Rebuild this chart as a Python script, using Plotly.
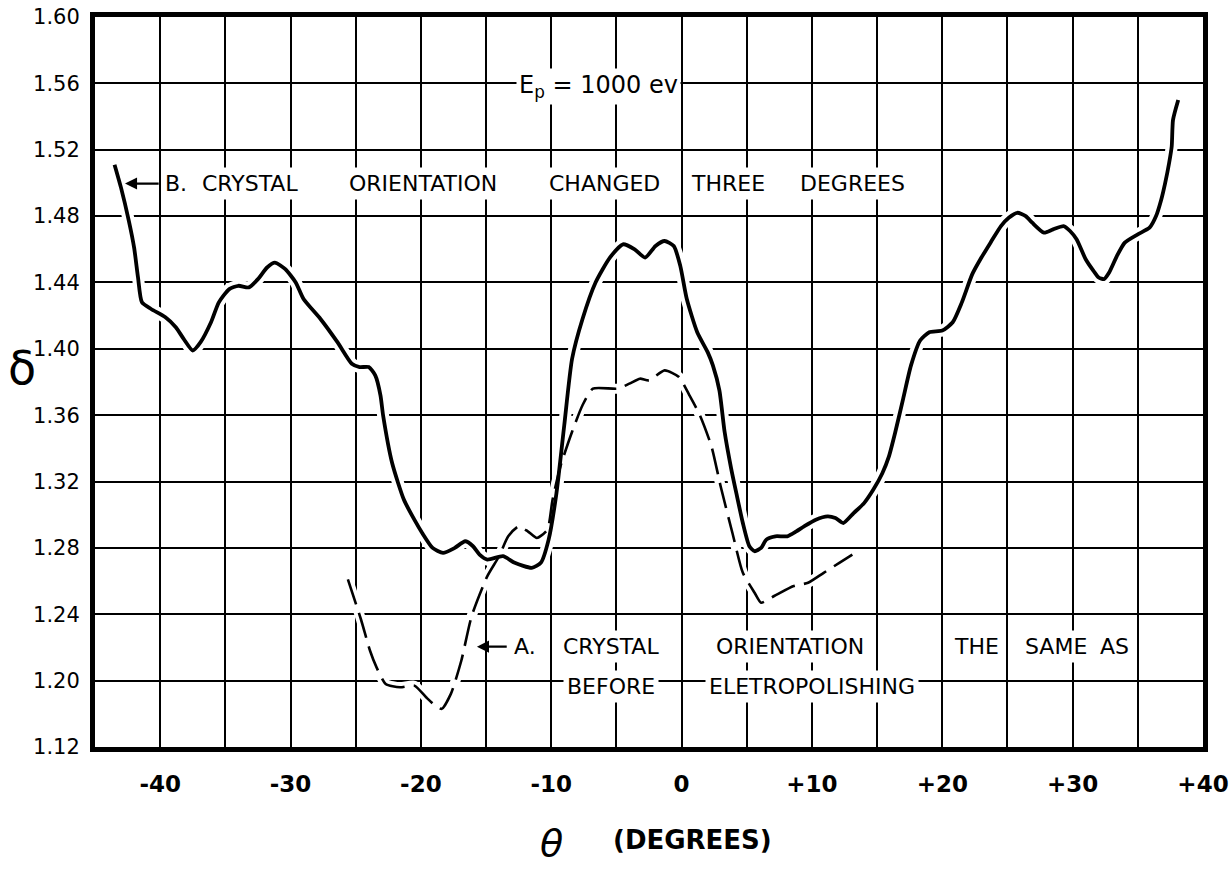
import plotly.graph_objects as go

# Curve B: crystal orientation changed three degrees (solid)
theta_b = [-43.5, -43.0, -42.4, -42.0, -41.7, -41.4, -40.7, -39.6, -38.8, -38.2,
           -37.5, -36.9, -36.1, -35.5, -34.7, -34.0, -33.2, -32.5, -31.8, -31.2,
           -30.4, -29.6, -29.0, -27.7, -26.4, -25.3, -24.7, -24.0, -23.5, -23.1,
           -22.9, -22.2, -21.3, -20.5, -19.9, -19.1, -18.3, -17.4, -16.6, -16.0,
           -15.5, -14.9, -13.7, -12.8, -11.5, -10.8, -10.2, -9.6, -9.0, -8.4,
           -7.6, -6.6, -5.5, -4.5, -3.6, -2.8, -2.0, -1.3, -0.6, -0.1,
           0.4, 1.2, 2.0, 2.4, 2.9, 3.3, 3.8, 4.2, 4.7, 5.2,
           5.6, 6.1, 6.5, 7.2, 8.1, 8.8, 9.4, 10.3, 11.2, 11.8,
           12.4, 13.2, 14.0, 14.7, 15.4, 15.9, 16.4, 17.0, 17.6, 18.3,
           19.0, 20.0, 20.8, 21.5, 22.3, 23.0, 23.7, 24.5, 25.1, 25.75,
           26.4, 26.9, 27.8, 28.5, 29.3, 29.8, 30.3, 31.0, 31.6, 32.0,
           32.4, 32.8, 33.4, 34.0, 35.0, 35.9, 36.4, 36.8, 37.1, 37.4,
           37.6, 37.7, 38.1]
delta_b = [1.511, 1.497, 1.477, 1.461, 1.443, 1.428, 1.424, 1.419, 1.413, 1.406,
           1.399, 1.404, 1.416, 1.428, 1.436, 1.438, 1.437, 1.442, 1.449, 1.452,
           1.448, 1.440, 1.430, 1.418, 1.404, 1.391, 1.389, 1.389, 1.384, 1.372,
           1.360, 1.331, 1.309, 1.297, 1.289, 1.280, 1.277, 1.280, 1.284, 1.281,
           1.276, 1.273, 1.275, 1.271, 1.268, 1.271, 1.285, 1.313, 1.354, 1.394,
           1.418, 1.440, 1.455, 1.463, 1.460, 1.455, 1.462, 1.465, 1.462, 1.450,
           1.430, 1.410, 1.398, 1.390, 1.375, 1.350, 1.328, 1.313, 1.295, 1.281,
           1.278, 1.280, 1.285, 1.287, 1.287, 1.290, 1.293, 1.297, 1.299, 1.298,
           1.295, 1.301, 1.307, 1.315, 1.325, 1.335, 1.350, 1.370, 1.390, 1.405,
           1.410, 1.411, 1.416, 1.428, 1.445, 1.455, 1.464, 1.474, 1.479, 1.482,
           1.480, 1.476, 1.470, 1.472, 1.474, 1.471, 1.466, 1.454, 1.447, 1.443,
           1.442, 1.446, 1.456, 1.464, 1.469, 1.473, 1.480, 1.490, 1.500, 1.512,
           1.522, 1.538, 1.550]

# Curve A: crystal orientation the same as before electropolishing (dashed)
theta_a = [-25.6, -24.6, -23.9, -23.4, -22.7, -21.6, -20.5, -19.6, -18.9, -18.4,
           -17.7, -16.9, -16.1, -14.9, -14.0, -13.3, -12.5, -11.8, -11.1, -10.3,
           -9.9, -9.3, -8.4, -7.6, -6.8, -4.9, -4.0, -3.2, -2.5, -1.3,
           -0.2, 0.6, 1.4, 2.3, 3.0, 3.9, 4.7, 5.6, 6.1, 7.1,
           8.6, 9.7, 10.9, 12.1, 13.1]
delta_a = [1.261, 1.237, 1.218, 1.208, 1.198, 1.196, 1.197, 1.190, 1.185, 1.183,
           1.192, 1.212, 1.239, 1.263, 1.275, 1.287, 1.293, 1.290, 1.286, 1.291,
           1.309, 1.329, 1.350, 1.366, 1.376, 1.376, 1.379, 1.382, 1.381, 1.387,
           1.383, 1.372, 1.360, 1.341, 1.317, 1.289, 1.265, 1.253, 1.247, 1.251,
           1.257, 1.259, 1.265, 1.271, 1.276]

# Axis ticks
x_tick_vals = [-40, -35, -30, -25, -20, -15, -10, -5, 0, 5, 10, 15, 20, 25, 30, 35, 40]
x_tick_text = ["-40", "", "-30", "", "-20", "", "-10", "", "0", "",
               "+10", "", "+20", "", "+30", "", "+40"]
y_tick_vals = [1.16, 1.20, 1.24, 1.28, 1.32, 1.36, 1.40, 1.44, 1.48, 1.52, 1.56, 1.60]
y_tick_text = ["1.12", "1.20", "1.24", "1.28", "1.32", "1.36", "1.40", "1.44",
               "1.48", "1.52", "1.56", "1.60"]

# Curve labels: (word, left edge in degrees)
label_b_words = [("B.", -39.9), ("CRYSTAL", -37.1), ("ORIENTATION", -25.8),
                 ("CHANGED", -10.5), ("THREE", 0.4), ("DEGREES", 8.8)]
label_b_y = 1.4996
label_a_row1 = [("A.", -13.2), ("CRYSTAL", -9.4), ("ORIENTATION", 2.3),
                ("THE", 20.6), ("SAME", 26.0), ("AS", 31.8)]
label_a_row1_y = 1.2205
label_a_row2 = [("BEFORE", -9.1), ("ELETROPOLISHING", 1.8)]
label_a_row2_y = 1.1963

FONT = "DejaVu Sans"

fig = go.Figure()

# white halos break the grid around the curves
fig.add_trace(go.Scatter(x=theta_b, y=delta_b, mode="lines", hoverinfo="skip",
                         line=dict(color="white", width=12, shape="spline", smoothing=0.6)))
fig.add_trace(go.Scatter(x=theta_a, y=delta_a, mode="lines", hoverinfo="skip",
                         line=dict(color="white", width=10, shape="spline", smoothing=0.6)))
fig.add_trace(go.Scatter(x=theta_a, y=delta_a, mode="lines", name="A",
                         line=dict(color="black", width=2.6, dash="26px,9px",
                                   shape="spline", smoothing=0.6)))
fig.add_trace(go.Scatter(x=theta_b, y=delta_b, mode="lines", name="B",
                         line=dict(color="black", width=3.8, shape="spline", smoothing=0.6)))

annotations = []
word_font = dict(family=FONT, size=22, color="black")
for rows, yv in ((label_b_words, label_b_y), (label_a_row1, label_a_row1_y),
                 (label_a_row2, label_a_row2_y)):
    for word, x0 in rows:
        annotations.append(dict(x=x0, y=yv, xref="x", yref="y", text=word,
                                showarrow=False, xanchor="left", yanchor="middle",
                                font=word_font, bgcolor="white", borderpad=3))

# leader arrows pointing at each curve
annotations.append(dict(x=-42.7, y=label_b_y, ax=-40.0, ay=label_b_y,
                        xref="x", yref="y", axref="x", ayref="y", text="",
                        showarrow=True, arrowhead=2, arrowsize=1.1, arrowwidth=2.2,
                        arrowcolor="black"))
annotations.append(dict(x=-15.7, y=label_a_row1_y, ax=-13.3, ay=label_a_row1_y,
                        xref="x", yref="y", axref="x", ayref="y", text="",
                        showarrow=True, arrowhead=2, arrowsize=1.1, arrowwidth=2.2,
                        arrowcolor="black"))

# beam energy
annotations.append(dict(x=-6.4, y=1.558, xref="x", yref="y",
                        text="E<sub>p</sub> = 1000 ev", showarrow=False,
                        xanchor="center", yanchor="middle",
                        font=dict(family=FONT, size=24, color="black"),
                        bgcolor="white", borderpad=2))

# axis titles
annotations.append(dict(x=-0.066, y=0.519, xref="paper", yref="paper", text="δ",
                        showarrow=False, xanchor="center", yanchor="middle",
                        font=dict(family=FONT, size=46, color="black")))
annotations.append(dict(x=-10.0, y=-0.131, xref="x", yref="paper", text="<i>θ</i>",
                        showarrow=False, xanchor="center", yanchor="middle",
                        font=dict(family=FONT, size=38, color="black")))
annotations.append(dict(x=-5.4, y=-0.127, xref="x", yref="paper", text="<b>(DEGREES)</b>",
                        showarrow=False, xanchor="left", yanchor="middle",
                        font=dict(family=FONT, size=26, color="black")))

fig.update_layout(
    width=1231, height=869,
    margin=dict(l=95, r=28, t=17, b=122, autoexpand=False),
    paper_bgcolor="white", plot_bgcolor="white",
    showlegend=False,
    annotations=annotations,
    xaxis=dict(range=[-45, 40], tickmode="array", tickvals=x_tick_vals,
               ticktext=x_tick_text, showgrid=True, gridcolor="black", gridwidth=1.6,
               zeroline=False, showline=True, linecolor="black", linewidth=5,
               mirror=True, ticks="", ticklabelstandoff=12,
               tickfont=dict(family=FONT, size=23, color="black", weight="bold")),
    yaxis=dict(range=[1.16, 1.60], tickmode="array", tickvals=y_tick_vals,
               ticktext=y_tick_text, showgrid=True, gridcolor="black", gridwidth=1.6,
               zeroline=False, showline=True, linecolor="black", linewidth=5,
               mirror=True, ticks="", ticklabelstandoff=6,
               tickfont=dict(family=FONT, size=21, color="black")),
)

fig.write_html("out.html")
